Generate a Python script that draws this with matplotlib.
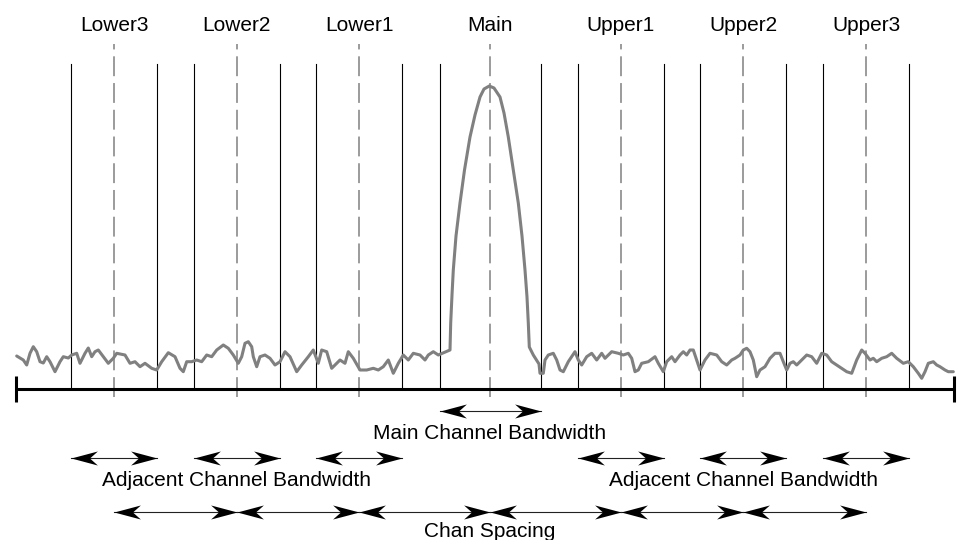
import numpy as np
import matplotlib.pyplot as plt
from matplotlib.path import Path

plt.rcParams['font.family'] = ['Liberation Sans', 'DejaVu Sans']

# channel layout (frequency axis, arbitrary units)
channel_names = ['Lower3', 'Lower2', 'Lower1', 'Main', 'Upper1', 'Upper2', 'Upper3']
channel_centers = [114, 236.5, 359.3, 490, 620.7, 743.3, 866]
channel_bw = [86, 86, 86, 101, 86, 86, 86]
span = [16, 954]

# measured trace: frequency / level above the floor line
trace_x = [
    16.7, 23.3, 26.7, 30, 33.3, 36.7, 40, 43.3, 46.7, 50, 55, 60, 63.3, 68.3, 71.7, 76.7,
    80, 85, 88.3, 91.7, 95, 98.3, 103.3, 108.3, 113.3, 116.7, 125, 130, 135, 140, 145,
    151.7, 156.7, 161.7, 168.3, 175, 180, 183.3, 186.7, 191.7, 196.7, 201.7, 206.7,
    211.7, 216.7, 223.3, 228.3, 233.3, 238.3, 241.7, 245, 248.3, 251.7, 253.3, 256.7,
    260, 265, 270, 275, 280, 285, 290, 296.7, 301.7, 308.3, 313.3, 318.3, 321.7, 326.7,
    331.7, 336.7, 340, 345, 348.3, 353.3, 360, 366.7, 373.3, 378.3, 383.3, 388.3, 393.3,
    398.3, 403.3, 408.3, 413.3, 420, 425, 428.3, 433.3, 438.3, 443, 450,
    450.7, 452, 453.3, 456, 460, 464.5, 470, 475, 480, 484, 489.3, 494, 500, 504, 508.3,
    513, 518.3, 522, 525, 527, 528.3, 529.3, 533.3, 539,
    540, 543.3, 545, 548.3, 553.3, 556.7, 560, 563.3, 568.3, 575, 578.3, 581.7, 586.7,
    591.7, 596.7, 601.7, 605, 611.7, 618.3, 623.3, 628.3, 631.7, 635, 638.3, 641.7,
    648.3, 655, 658.3, 663.3, 666.7, 671.7, 675, 680, 683.3, 686.7, 690, 693.3, 696.7,
    700, 705, 710, 716.7, 721.7, 726.7, 731.7, 735, 740, 743.3, 746.7, 750, 753.3,
    756.7, 760, 765, 770, 775, 780, 783.3, 786.7, 790, 793.3, 796.7, 801.7, 806.7,
    811.7, 816.7, 821.7, 826.7, 831.7, 836.7, 841.7, 846.7, 851.7, 856.7, 861.7, 865,
    870, 873.3, 876.7, 881.7, 886.7, 891.7, 896.7, 903.3, 908.3, 913.3, 918.3, 921.7,
    925, 928.3, 933.3, 936.7, 940, 945, 948.3, 953.3,
]
trace_level = [
    33, 29, 24, 35.7, 42.3, 37.3, 27.3, 26, 32.3, 27.3, 17.3, 27.3, 32.3, 31, 34, 35.7,
    25.7, 35.7, 41, 32.3, 37.3, 39, 32.3, 25.7, 30.7, 35.7, 34, 25.7, 27.3, 22.3, 25.7,
    20.7, 19, 27.3, 36.3, 32.3, 20.7, 17.3, 27.3, 27.3, 29, 27.3, 34,
    32.3, 39, 44, 40.7, 34, 25.7, 32.3, 45.7, 47.3, 42.3, 32.3, 22.3,
    32.3, 34, 30.7, 24, 27.3, 37.3, 32.3, 17.3, 24, 32.3, 39, 25.7, 39, 37.3,
    20.7, 25.7, 29, 25.7, 37.3, 30.7, 19, 19, 20.7, 19, 22.3, 29, 15.7,
    25.7, 34, 29, 35.7, 34, 29, 34, 37.3, 34, 36, 39,
    66, 94, 119, 153, 186, 219, 252, 274, 292, 300, 303, 301, 292, 276, 252,
    221, 186, 153, 119, 92, 66, 42, 34, 25,
    15.7, 15.7, 29, 34, 35.7, 29, 19, 17.3, 27.3, 37.3, 29, 24, 32.3,
    35.7, 29, 35.7, 30.7, 37.3, 35.7, 34, 35.7, 30.7, 17.3, 19, 25.7,
    27.3, 32.3, 25.7, 17.3, 27.3, 32.3, 27.3, 34, 37.3, 34, 39, 39, 29,
    19, 29, 35.7, 34, 27.3, 24, 29, 30.7, 34, 39, 40.7, 37.3, 29,
    12.3, 19, 22.3, 30.7, 35.7, 35.7, 27.3, 19, 25.7, 27.3, 24, 29, 34,
    32.3, 25.7, 35.7, 34, 27.3, 24, 20.7, 17.3, 15.7, 29, 39, 35.7,
    29, 30.7, 27.3, 30.7, 32.3, 35.7, 30.7, 25.7, 27.3, 22.3, 15.7, 10.7,
    17.3, 25.7, 27.3, 24, 22.3, 19, 17.3, 17.3,
]

GRAY = '#808080'

# concave arrow heads, tip at the marker origin
head_right = Path([(0, 0), (-15, 4), (-10.5, 0), (-15, -4), (0, 0)],
                  [Path.MOVETO, Path.LINETO, Path.LINETO, Path.LINETO, Path.CLOSEPOLY])
head_left = Path([(0, 0), (15, 4), (10.5, 0), (15, -4), (0, 0)],
                 [Path.MOVETO, Path.LINETO, Path.LINETO, Path.LINETO, Path.CLOSEPOLY])
HEAD_MS = 38

fig = plt.figure(figsize=(9.63, 5.4), dpi=100)
ax = fig.add_axes([0, 0, 1, 1])
ax.set_xlim(0, 963)
ax.set_ylim(-151, 389)
ax.axis('off')

# channel edges and centres
for name, c, bw in zip(channel_names, channel_centers, channel_bw):
    for edge in (c - bw / 2, c + bw / 2):
        ax.plot([edge, edge], [0, 325], color='black', lw=0.8, zorder=1)
    ax.plot([c, c], [-8, 345], color=GRAY, lw=1.1, dashes=(13, 4.5), zorder=1)
    ax.text(c, 358, name, ha='center', va='baseline', fontsize=15)

# trace
ax.plot(trace_x, trace_level, color=GRAY, lw=2.2, solid_joinstyle='round',
        solid_capstyle='round', zorder=3)

# frequency axis
ax.plot(span, [0, 0], color='black', lw=2.2, solid_capstyle='butt', zorder=4)
for s in span:
    ax.plot([s, s], [-13, 13], color='black', lw=2.2, solid_capstyle='butt', zorder=4)


def double_arrow(x0, x1, y):
    ax.plot([x0, x1], [y, y], color='#222222', lw=0.8)
    ax.plot([x0], [y], marker=head_left, ms=HEAD_MS, color='black', mew=0)
    ax.plot([x1], [y], marker=head_right, ms=HEAD_MS, color='black', mew=0)


main_idx = channel_names.index('Main')
mc, mbw = channel_centers[main_idx], channel_bw[main_idx]
double_arrow(mc - mbw / 2, mc + mbw / 2, -22)
ax.text(mc, -50, 'Main Channel Bandwidth', ha='center', va='baseline', fontsize=15)

for i, (c, bw) in enumerate(zip(channel_centers, channel_bw)):
    if i != main_idx:
        double_arrow(c - bw / 2, c + bw / 2, -69)
ax.text(channel_centers[1], -97, 'Adjacent Channel Bandwidth', ha='center',
        va='baseline', fontsize=15)
ax.text(channel_centers[5], -97, 'Adjacent Channel Bandwidth', ha='center',
        va='baseline', fontsize=15)

for a, b in zip(channel_centers[:-1], channel_centers[1:]):
    double_arrow(a, b, -122.7)
ax.text(mc, -148, 'Chan Spacing', ha='center', va='baseline', fontsize=15)

fig.savefig('out.png', dpi=100)
